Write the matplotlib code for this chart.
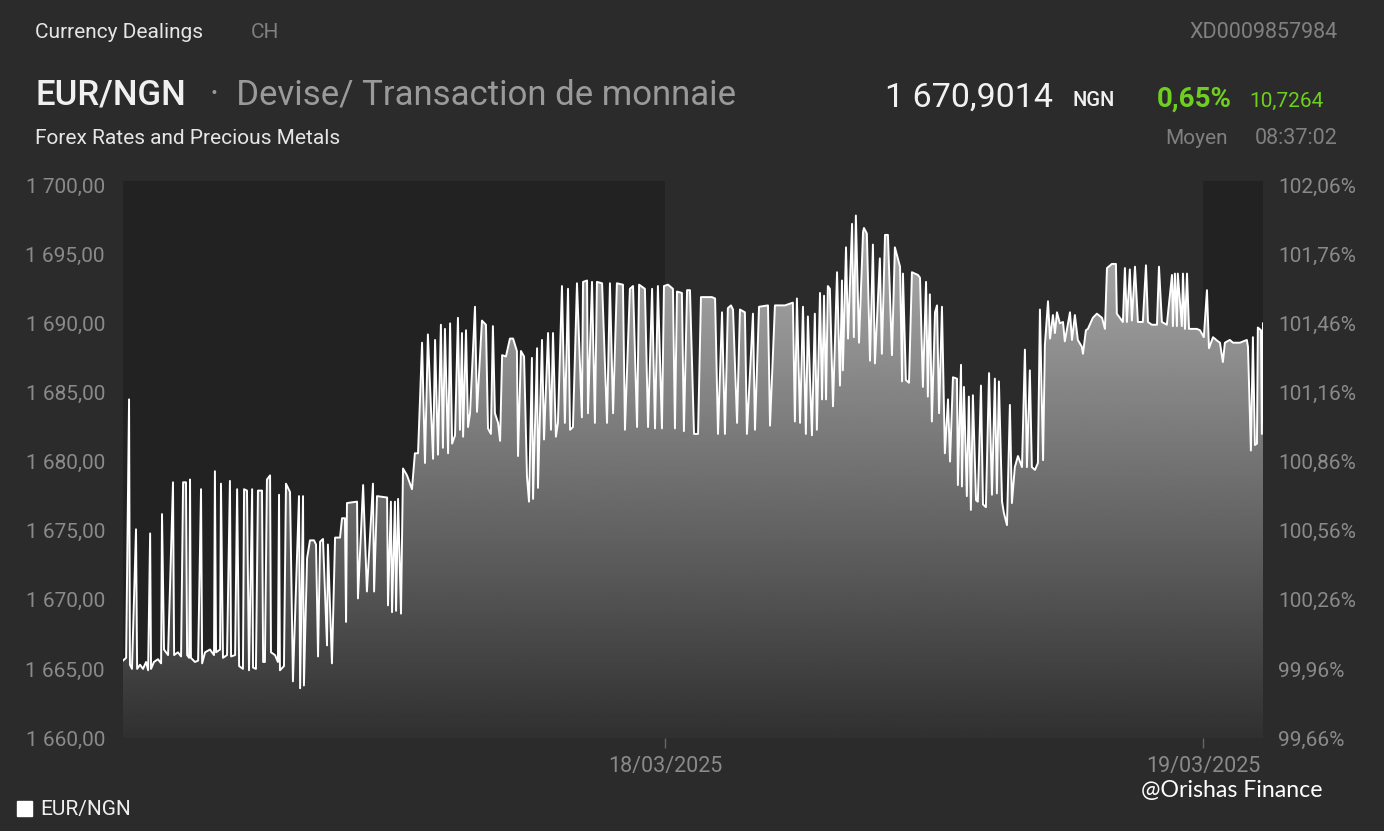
import numpy as np
import matplotlib
matplotlib.use("Agg")
import matplotlib.pyplot as plt
from matplotlib.patches import Rectangle

# hours since 17/03/2025 00:00 and EUR/NGN rate
hours = [
    -0.18, -0.04, 0.09, 0.13, 0.22, 0.40, 0.45, 0.58, 0.71, 0.85, 0.94, 1.03, 1.07, 1.20, 1.38, 1.52,
    1.56, 1.65, 1.83, 2.05, 2.10, 2.27, 2.41, 2.50, 2.63, 2.68, 2.77, 2.81, 2.85, 3.03, 3.17, 3.30,
    3.35, 3.48, 3.70, 3.88, 3.92, 3.97, 4.15, 4.19, 4.28, 4.46, 4.59, 4.64, 4.82, 4.91, 5.00, 5.17,
    5.22, 5.35, 5.44, 5.58, 5.62, 5.75, 5.84, 6.02, 6.07, 6.15, 6.24, 6.38, 6.42, 6.60, 6.73, 6.78,
    6.82, 7.00, 7.09, 7.27, 7.40, 7.67, 7.72, 7.85, 7.89, 8.03, 8.16, 8.34, 8.43, 8.52, 8.61, 8.74,
    8.92, 8.96, 9.14, 9.28, 9.50, 9.59, 9.72, 9.77, 9.81, 10.26, 10.30, 10.53, 10.70, 10.97, 11.02, 11.15,
    11.60, 11.64, 11.77, 11.82, 11.95, 12.00, 12.09, 12.22, 12.31, 12.49, 12.71, 12.84, 12.98,
    13.16, 13.29, 13.42, 13.65, 13.74, 13.87, 14.00, 14.09, 14.18, 14.32, 14.41, 14.50, 14.63, 14.76,
    14.85, 14.94, 14.99, 15.12, 15.21, 15.30, 15.52, 15.61, 15.83, 16.01, 16.10, 16.23, 16.32, 16.41,
    16.55, 16.64, 16.73, 16.90, 17.08, 17.22, 17.39, 17.44, 17.57, 17.71, 17.84, 17.93, 18.06, 18.11,
    18.29, 18.33, 18.51, 18.60, 18.78, 18.91, 19.00, 19.13, 19.22, 19.40, 19.53, 19.67, 19.76, 19.89,
    20.07, 20.29, 20.34, 20.52, 20.56, 20.74, 20.87, 20.96, 21.19, 21.41, 21.54, 21.68, 21.85, 22.12,
    22.21, 22.43, 22.57, 22.75, 22.84, 23.10, 23.24, 23.42, 23.55, 23.68, 23.86, 23.95, 24.13, 24.35,
    24.44, 24.53, 24.75, 24.84, 24.98, 25.11, 25.29, 25.47, 25.60, 26.09, 26.23, 26.36, 26.54, 26.67,
    26.80, 26.94, 27.03, 27.21, 27.34, 27.56, 27.65, 27.92, 28.01, 28.19, 28.59, 28.68, 28.90, 29.35,
    29.70, 29.79, 29.88, 30.02, 30.15, 30.28, 30.37, 30.55, 30.68, 30.77, 30.91, 31.00, 31.09, 31.18,
    31.26, 31.35, 31.49, 31.67, 31.80, 31.89, 31.93, 32.07, 32.16, 32.34, 32.42, 32.51, 32.65, 32.83,
    32.87, 33.00, 33.14, 33.27, 33.36, 33.58, 33.67, 33.81, 33.94, 34.12, 34.25, 34.48, 34.57, 34.61,
    34.74, 34.88, 35.01, 35.28, 35.37, 35.50, 35.64, 35.72, 35.81, 35.90, 36.04, 36.13, 36.22, 36.35,
    36.48, 36.62, 36.71, 36.84, 37.02, 37.06, 37.20, 37.24, 37.33, 37.46, 37.55, 37.64, 37.73, 37.87,
    37.95, 38.09, 38.18, 38.31, 38.45, 38.58, 38.71, 38.80, 38.89, 39.03, 39.11, 39.25, 39.38, 39.47,
    39.60, 39.74, 39.92, 40.05, 40.14, 40.27, 40.36, 40.50, 40.63, 40.72, 40.86, 40.94, 41.08, 41.17,
    41.30, 41.39, 41.48, 41.61, 41.75, 41.83, 42.06, 42.15, 42.28, 42.41, 42.59, 42.64, 42.77, 42.86,
    43.08, 43.26, 43.49, 43.62, 43.71, 43.93, 44.11, 44.15, 44.42, 44.51, 44.60, 44.73, 44.82, 44.96,
    45.09, 45.31, 45.45, 45.54, 45.71, 45.94, 46.03, 46.16, 46.38, 46.61, 46.65, 46.74, 46.83, 46.87,
    47.05, 47.10, 47.19, 47.28, 47.37, 47.72, 47.86, 48.03, 48.17, 48.26, 48.44, 48.66, 48.75, 48.88,
    48.97, 49.19, 49.33, 49.64, 49.95, 50.00, 50.13, 50.22, 50.31, 50.40, 50.44, 50.58, 50.62, 50.67,
]
rate = [
    1665.6, 1665.8, 1684.5, 1665.3, 1665.0, 1675.1, 1665.0, 1665.3, 1665.0, 1665.5, 1664.9, 1674.8, 1665.0, 1665.5, 1665.7, 1665.4,
    1676.2, 1666.4, 1666.0, 1678.5, 1666.0, 1666.2, 1665.9, 1678.5, 1678.5, 1666.0, 1665.8, 1678.7, 1665.8, 1665.5, 1665.6, 1678.0,
    1665.4, 1666.2, 1666.4, 1666.0, 1679.3, 1666.2, 1666.4, 1678.4, 1665.8, 1666.0, 1678.6, 1665.9, 1666.0, 1678.0, 1665.2, 1665.0,
    1678.0, 1677.9, 1664.9, 1678.0, 1665.1, 1665.0, 1677.9, 1677.9, 1665.5, 1665.5, 1678.7, 1679.0, 1666.2, 1666.0, 1665.5, 1677.6,
    1664.9, 1665.2, 1678.4, 1677.8, 1664.1, 1677.5, 1663.6, 1677.5, 1663.8, 1673.0, 1674.3, 1674.3, 1674.0, 1665.9, 1674.2, 1674.4,
    1666.7, 1674.0, 1665.4, 1674.5, 1674.5, 1675.9, 1675.9, 1668.4, 1677.0, 1677.1, 1670.1, 1678.3, 1670.6, 1678.4, 1670.6, 1677.5,
    1677.4, 1669.6, 1677.1, 1669.1, 1677.1, 1669.2, 1677.3, 1669.0, 1679.5, 1679.0, 1678.0, 1680.6, 1680.6,
    1688.6, 1679.9, 1689.2, 1680.2, 1688.8, 1680.5, 1689.9, 1681.0, 1689.6, 1680.6, 1690.0, 1681.3, 1681.9, 1690.4,
    1682.3, 1689.3, 1681.8, 1689.5, 1682.5, 1683.5, 1691.2, 1683.6, 1690.2, 1689.9, 1682.4, 1682.0, 1689.8, 1683.5,
    1682.8, 1681.5, 1687.7, 1687.6, 1688.9, 1688.9, 1688.0, 1680.4, 1688.0, 1687.6, 1678.9, 1677.1, 1687.5, 1677.3,
    1688.2, 1678.1, 1688.8, 1681.6, 1689.3, 1682.3, 1689.3, 1681.8, 1682.8, 1692.7, 1682.8, 1692.5, 1682.3, 1682.5,
    1692.9, 1683.2, 1693.0, 1693.1, 1683.5, 1693.0, 1682.8, 1693.0, 1692.9, 1682.8, 1692.9, 1683.5, 1692.9, 1692.8,
    1682.3, 1692.5, 1692.7, 1682.5, 1692.8, 1692.5, 1682.5, 1692.5, 1682.4, 1692.7, 1682.4, 1692.7, 1692.8, 1692.5,
    1682.4, 1692.3, 1692.2, 1682.2, 1692.4, 1692.4, 1682.0, 1682.0, 1691.9, 1691.9, 1691.8, 1682.0, 1690.8, 1682.0,
    1691.1, 1691.3, 1691.0, 1682.8, 1691.0, 1690.8, 1682.0, 1690.7, 1682.3, 1691.2, 1691.3, 1682.6, 1691.3, 1691.3,
    1691.5, 1682.9, 1691.8, 1682.8, 1691.2, 1682.0, 1690.5, 1681.9, 1690.7, 1682.3, 1692.2, 1684.5, 1692.0, 1684.5,
    1692.7, 1692.5, 1684.0, 1693.7, 1685.5, 1693.1, 1686.6, 1695.5, 1688.9, 1697.2, 1689.0, 1697.8, 1688.6, 1696.6,
    1696.9, 1696.5, 1687.3, 1695.7, 1687.1, 1694.7, 1687.8, 1696.4, 1696.4, 1687.7, 1695.5, 1694.1, 1685.8, 1693.6,
    1685.9, 1685.7, 1693.7, 1693.5, 1693.3, 1685.4, 1693.0, 1684.7, 1692.1, 1682.9, 1690.8, 1691.3, 1683.5, 1691.2,
    1680.6, 1684.5, 1680.0, 1686.1, 1686.0, 1678.3, 1687.0, 1678.2, 1685.4, 1677.5, 1684.7, 1676.5, 1684.8, 1677.2,
    1677.1, 1685.5, 1676.9, 1676.7, 1686.4, 1677.6, 1686.0, 1677.7, 1685.8, 1677.1, 1676.3, 1675.4, 1684.1, 1677.0,
    1679.6, 1680.4, 1679.6, 1688.1, 1679.6, 1686.6, 1679.6, 1679.4, 1679.9, 1691.0, 1680.1, 1688.4, 1691.6, 1688.9,
    1690.6, 1689.3, 1690.8, 1690.0, 1690.1, 1688.7, 1690.8, 1688.8, 1690.6, 1688.8, 1688.3, 1687.8, 1689.5, 1689.6,
    1690.4, 1690.7, 1690.4, 1689.6, 1694.0, 1694.3, 1694.3, 1690.7, 1690.1, 1694.0, 1690.1, 1693.9, 1690.2, 1694.1,
    1690.1, 1690.1, 1694.2, 1690.1, 1689.9, 1689.9, 1694.1, 1690.1, 1689.9, 1693.5, 1689.8, 1693.6, 1689.8, 1693.6,
    1689.8, 1693.6, 1689.6, 1693.6, 1689.6, 1689.6, 1689.5, 1689.0, 1692.4, 1688.2, 1689.0, 1688.7, 1688.6, 1687.2,
    1688.6, 1688.8, 1688.6, 1688.6, 1688.8, 1688.3, 1680.8, 1689.0, 1681.2, 1681.3, 1689.7, 1689.5, 1682.0, 1690.0,
]

y_ticks = [1660, 1665, 1670, 1675, 1680, 1685, 1690, 1695, 1700]
y_labels = ["1 660,00", "1 665,00", "1 670,00", "1 675,00", "1 680,00",
            "1 685,00", "1 690,00", "1 695,00", "1 700,00"]
pct_labels = ["99,66%", "99,96%", "100,26%", "100,56%", "100,86%",
              "101,16%", "101,46%", "101,76%", "102,06%"]
day_ticks = [24, 48]
day_labels = ["18/03/2025", "19/03/2025"]

bg = "#2b2b2b"
band = "#222222"
grey = "#8a8a8a"
font = "Roboto"

x = np.array(hours)
y = np.array(rate)
x0, x1 = -0.18, 50.67
y0, y1 = 1660, 1700.3

fig = plt.figure(figsize=(13.84, 8.31), dpi=100, facecolor=bg)
ax = fig.add_axes([123 / 1384, 93 / 831, 1140 / 1384, 557 / 831])
ax.set_facecolor(bg)
ax.set_xlim(x0, x1)
ax.set_ylim(y0, y1)

# darker bands for the days outside 18/03
ax.axvspan(x0, 24, color=band, zorder=0, lw=0)
ax.axvspan(48, x1, color=band, zorder=0, lw=0)

# grey gradient under the line
poly = ax.fill_between(x, y, y0, color="none", lw=0)
grad = np.linspace(0.72, 0.19, 256).reshape(-1, 1)
img = ax.imshow(grad, cmap="gray", vmin=0, vmax=1, aspect="auto",
                extent=[x0, x1, y0, y1], origin="upper", zorder=1)
img.set_clip_path(poly.get_paths()[0], transform=ax.transData)

ax.plot(x, y, color="white", lw=1.4, zorder=3)

for s in ax.spines.values():
    s.set_visible(False)

ax.set_yticks(y_ticks)
ax.set_yticklabels(y_labels)
ax.tick_params(axis="y", length=0, pad=13, labelsize=15, labelcolor=grey)
ax.set_xticks(day_ticks)
ax.set_xticklabels(day_labels)
ax.tick_params(axis="x", length=7, width=1, color="#666666", pad=6,
               labelsize=15.5, labelcolor=grey)
for lab in ax.get_xticklabels() + ax.get_yticklabels():
    lab.set_fontfamily(font)

ax2 = ax.twinx()
ax2.set_ylim(y0, y1)
ax2.set_yticks(y_ticks)
ax2.set_yticklabels(pct_labels)
ax2.tick_params(axis="y", length=0, pad=11, labelsize=15, labelcolor=grey)
for lab in ax2.get_yticklabels():
    lab.set_fontfamily(font)
for s in ax2.spines.values():
    s.set_visible(False)


def txt(px, py, s, **kw):
    kw.setdefault("family", font)
    kw.setdefault("va", "center")
    fig.text(px / 1384, 1 - py / 831, s, **kw)


txt(35, 33, "Currency Dealings", size=15, color="#e6e6e6")
txt(251, 33, "CH", size=15, color="#808080")
txt(1338, 33, "XD0009857984", size=15.5, color="#808080", ha="right")

txt(35, 95, "EUR/NGN", size=25, color="#f0f0f0", weight="medium")
txt(210, 95, "\u00b7  Devise/ Transaction de monnaie", size=25, color="#9a9a9a")
txt(885, 98, "1 670,9014", size=24.5, color="#f2f2f2")
txt(1073, 101, "NGN", size=14.5, color="#f0f0f0", weight="medium")
txt(1157, 99, "0,65%", size=20, color="#6fcf1f", weight="bold")
txt(1249, 101, "10,7264", size=15, color="#6fcf1f")

txt(35, 139, "Forex Rates and Precious Metals", size=15, color="#e6e6e6")
txt(1165, 139, "Moyen", size=15, color="#808080")
txt(1338, 139, "08:37:02", size=15.5, color="#808080", ha="right")

# legend swatch
fig.patches.append(Rectangle((17 / 1384, 1 - 816 / 831), 15 / 1384, 15 / 831,
                             transform=fig.transFigure, color="white"))
txt(40, 810, "EUR/NGN", size=15, color="#f0f0f0")

txt(1141, 791, "@Orishas Finance", size=16.7, color="white", family="Lato")

fig.savefig("out.png", dpi=100, facecolor=bg)
